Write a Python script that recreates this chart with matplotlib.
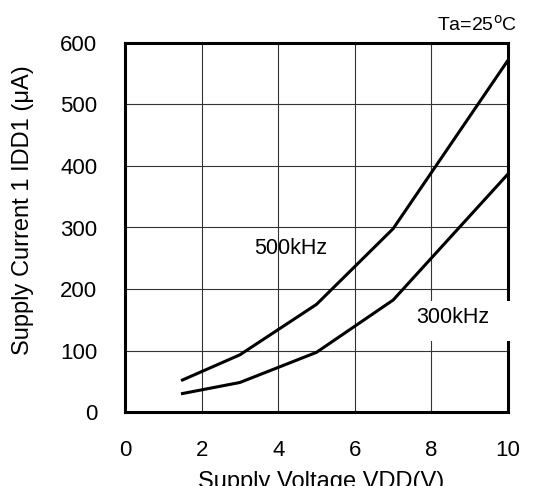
import matplotlib.pyplot as plt
from matplotlib.patches import Rectangle

plt.rcParams['font.family'] = ['Liberation Sans', 'DejaVu Sans']

# supply voltage (V) and supply current (uA)
vdd = [1.5, 3, 5, 7, 10]
idd_500k = [52, 93, 175, 298, 572]
idd_300k = [30, 48, 97, 182, 387]

x_ticks = [0, 2, 4, 6, 8, 10]
y_ticks = [0, 100, 200, 300, 400, 500, 600]

fig = plt.figure(figsize=(5.41, 4.86), dpi=100)
ax = fig.add_axes([125 / 541, 1 - 412 / 486, 383 / 541, 369 / 486])

ax.plot(vdd, idd_500k, color='black', lw=2.2, solid_joinstyle='miter')
ax.plot(vdd, idd_300k, color='black', lw=2.2, solid_joinstyle='miter')

ax.set_xlim(0, 10)
ax.set_ylim(0, 600)
ax.set_xticks(x_ticks)
ax.set_yticks(y_ticks)
ax.tick_params(length=0, labelsize=16, pad=20)
ax.tick_params(axis='x', pad=20)
ax.grid(True, color='#333333', lw=0.8)
for s in ax.spines.values():
    s.set_linewidth(2.2)

ax.text(4.33, 266, '500kHz', fontsize=15.5, ha='center', va='center')
# white label box that covers the grid and right border
ax.add_patch(Rectangle((7.5, 115), 3.05, 65, facecolor='white', edgecolor='none',
                       clip_on=False, zorder=4))
ax.text(8.56, 153, '300kHz', fontsize=15.5, ha='center', va='center', zorder=5)
ax.text(1.0235, 1.032, 'Ta=25$^{\\rm o}$C', transform=ax.transAxes, fontsize=14,
        ha='right', va='baseline')

ax.set_xlabel('Supply Voltage VDD(V)', fontsize=17, labelpad=7)
ax.set_ylabel('Supply Current 1 IDD1 (\u03bcA)', fontsize=17, labelpad=19)
ax.xaxis.label.set_x(0.512)
ax.yaxis.label.set_y(0.547)

fig.savefig('out.png', dpi=100)
